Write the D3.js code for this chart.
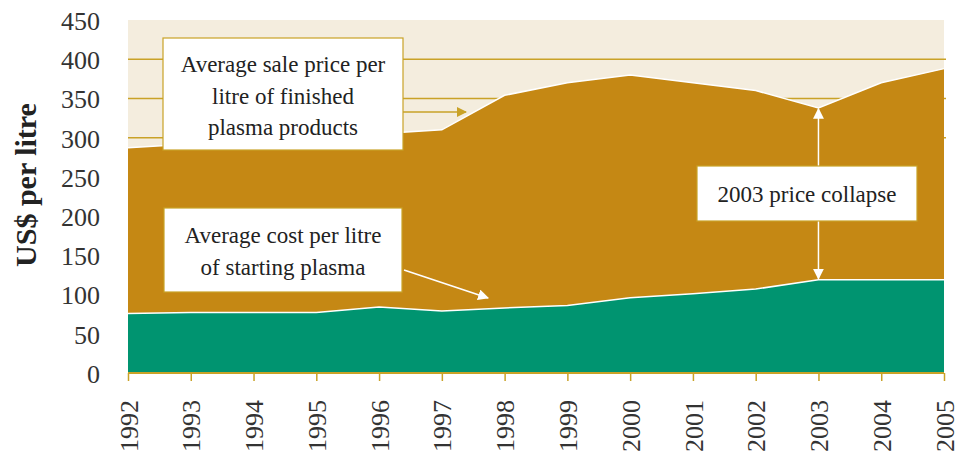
<!DOCTYPE html>
<html><head><meta charset="utf-8">
<script src="https://cdn.jsdelivr.net/npm/d3@7"></script>
<style>body{margin:0;background:#fff}svg{display:block}svg text{font-family:"Liberation Serif","Times New Roman",serif !important}</style>
</head><body><svg id="c" width="959" height="452"></svg>
<script>
const years = [1992,1993,1994,1995,1996,1997,1998,1999,2000,2001,2002,2003,2004,2005];
const salePrice = [287,292,296,300,305,310,354,370,380,370,360,338,370,388];
const startingCost = [76,77,77,77,84,79,83,86,96,101,107,119,119,119];
const yTicks = [0,50,100,150,200,250,300,350,400,450];
const gridValues = [300,350,400];
const yTitle = "US$ per litre";
const saleLabel = ["Average sale price per","litre of finished","plasma products"];
const costLabel = ["Average cost per litre","of starting plasma"];
const collapseLabel = "2003 price collapse";

const svg = d3.select("#c");
const L=128, R=944, T=20, B=373;
const x = d3.scaleLinear().domain([1992,2005]).range([L,R]);
const y = d3.scaleLinear().domain([0,450]).range([B,T]);
const gold="#C9A227", beige="#F4EDDE", areaGold="#C58814", teal="#009470";
const FONT = '"Liberation Serif","Times New Roman",serif';

const defs = svg.append("defs");
function marker(id,color,s){
  defs.append("marker").attr("id",id).attr("viewBox","0 0 10 10").attr("refX",9).attr("refY",5)
    .attr("markerWidth",s).attr("markerHeight",s).attr("markerUnits","userSpaceOnUse").attr("orient","auto-start-reverse")
    .append("path").attr("d","M0,0L10,5L0,10Z").attr("fill",color);
}
marker("mg",gold,10); marker("mw","#fff",11);

svg.append("rect").attr("x",L).attr("y",T).attr("width",R-L).attr("height",B-T).attr("fill",beige);
svg.append("g").selectAll("line").data(gridValues).join("line")
  .attr("x1",L).attr("x2",R+2).attr("y1",d=>y(d)).attr("y2",d=>y(d)).attr("stroke",gold).attr("stroke-width",1.5);

const data = years.map((yr,i)=>({yr,s:salePrice[i],c:startingCost[i]}));
svg.append("path").datum(data).attr("fill",areaGold)
  .attr("d",d3.area().x(d=>x(d.yr)).y0(B).y1(d=>y(d.s)));
svg.append("path").datum(data).attr("fill","none").attr("stroke","#fff").attr("stroke-width",1.5)
  .attr("d",d3.line().x(d=>x(d.yr)).y(d=>y(d.s)));
svg.append("path").datum(data).attr("fill",teal)
  .attr("d",d3.area().x(d=>x(d.yr)).y0(B).y1(d=>y(d.c)));
svg.append("path").datum(data).attr("fill","none").attr("stroke","#fff").attr("stroke-width",1.5)
  .attr("d",d3.line().x(d=>x(d.yr)).y(d=>y(d.c)));

// x axis
const xa = svg.append("g").attr("transform",`translate(0,${B})`)
  .call(d3.axisBottom(x).tickValues(years).tickFormat(d3.format("d")).tickSize(8).tickPadding(12));
xa.attr("font-family",FONT);
xa.select(".domain").attr("stroke",gold).attr("stroke-width",2).attr("d",`M${L},0H${R}`);
xa.selectAll(".tick line").attr("stroke",gold).attr("stroke-width",1.5);
xa.selectAll(".tick text").attr("font-size",26).attr("fill","#333").style("font-family",FONT)
  .attr("transform","rotate(-90)").attr("text-anchor","end").attr("x",-27).attr("y",0).attr("dy","0.35em");

// y axis
const ya = svg.append("g").attr("transform",`translate(${L},0)`)
  .call(d3.axisLeft(y).tickValues(yTicks).tickSize(0).tickPadding(28));
ya.attr("font-family",FONT);
ya.select(".domain").remove();
ya.selectAll(".tick text").attr("font-size",26).attr("fill","#333").style("font-family",FONT).attr("dy","0.36em");

svg.append("text").attr("transform","translate(36,185) rotate(-90)").attr("text-anchor","middle")
  .style("font-family",FONT).attr("font-size",30).attr("font-weight","bold").attr("fill","#222").text(yTitle);

// annotations
function box(x0,y0,w,h,lines,cy,lh){
  svg.append("rect").attr("x",x0).attr("y",y0).attr("width",w).attr("height",h).attr("fill","#fff")
    .attr("stroke",gold).attr("stroke-width",1.2);
  lines.forEach((t,i)=>svg.append("text").attr("x",x0+w/2).attr("y",cy+i*lh).attr("text-anchor","middle")
    .style("font-family",FONT).attr("dy","0.35em").attr("font-size",23).attr("fill","#222").text(t));
}
svg.append("line").attr("x1",403).attr("y1",112).attr("x2",466).attr("y2",112)
  .attr("stroke",gold).attr("stroke-width",1.5).attr("marker-end","url(#mg)");
box(163,38,240,112,saleLabel,64,31.5);

svg.append("line").attr("x1",404).attr("y1",270).attr("x2",488).attr("y2",298)
  .attr("stroke","#fff").attr("stroke-width",1.5).attr("marker-end","url(#mw)");
box(164,208,238,84,costLabel,235,32);

const cx = x(2003);
svg.append("line").attr("x1",cx).attr("y1",166).attr("x2",cx).attr("y2",y(salePrice[11])+1)
  .attr("stroke","#fff").attr("stroke-width",1.5).attr("marker-end","url(#mw)");
svg.append("line").attr("x1",cx).attr("y1",221).attr("x2",cx).attr("y2",y(startingCost[11])-1)
  .attr("stroke","#fff").attr("stroke-width",1.5).attr("marker-end","url(#mw)");
box(697,166,220,55,[collapseLabel],194,0);
</script></body></html>
